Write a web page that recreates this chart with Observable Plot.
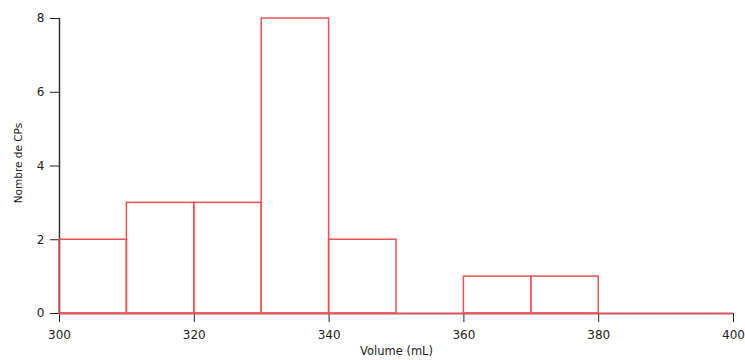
<!DOCTYPE html>
<html>
<head>
<meta charset="utf-8">
<script src="https://cdn.jsdelivr.net/npm/d3@7"></script>
<script src="https://cdn.jsdelivr.net/npm/@observablehq/plot@0.6"></script>
<style>
  html, body { margin: 0; padding: 0; background: #fff; }
</style>
</head>
<body>
<div id="chart"></div>
<script>
const binStarts = [300, 310, 320, 330, 340, 350, 360, 370, 380, 390];
const binEnds   = [310, 320, 330, 340, 350, 360, 370, 380, 390, 400];
const counts    = [2, 3, 3, 8, 2, 0, 1, 1, 0, 0];
const xTicks = [300, 320, 340, 360, 380, 400];
const yTicks = [0, 2, 4, 6, 8];
const xTitle = "Volume (mL)";
const yTitle = "Nombre de CPs";

const bins = binStarts.map((x0, i) => ({x0, x1: binEnds[i], count: counts[i]}));
const barColor = "#f05050";
const axisColor = "#333";

const chart = Plot.plot({
  width: 745,
  height: 360,
  marginLeft: 59,
  marginRight: 12,
  marginTop: 18,
  marginBottom: 47,
  style: {fontFamily: "DejaVu Sans", fontSize: "12px", background: "#fff", color: "#222"},
  x: {domain: [300, 400], ticks: xTicks, tickSize: 9, tickPadding: 8, label: null},
  y: {domain: [0, 8], ticks: yTicks, tickSize: 9, tickPadding: 6, label: null},
  marks: [
    Plot.ruleX([300], {y1: 0, y2: 8, stroke: axisColor, strokeWidth: 1.5}),
    Plot.ruleY([0], {x1: 300, x2: 400, stroke: axisColor, strokeWidth: 1.5}),
    Plot.rect(bins, {x1: "x0", x2: "x1", y1: 0, y2: "count", fill: "none", stroke: barColor, strokeWidth: 1.5}),
    Plot.ruleY(bins, {x1: "x0", x2: "x1", y: () => 0, stroke: barColor, strokeWidth: 1.5}),
    Plot.text([xTitle], {text: d => d, frameAnchor: "bottom", textAnchor: "middle", dy: 41, fontSize: 11.5, fill: "#222"}),
    Plot.text([yTitle], {text: d => d, frameAnchor: "left", textAnchor: "middle", dx: -41, dy: -3, rotate: -90, fontSize: 10.5, fill: "#222"})
  ]
});
document.getElementById("chart").appendChild(chart);
</script>
</body>
</html>
